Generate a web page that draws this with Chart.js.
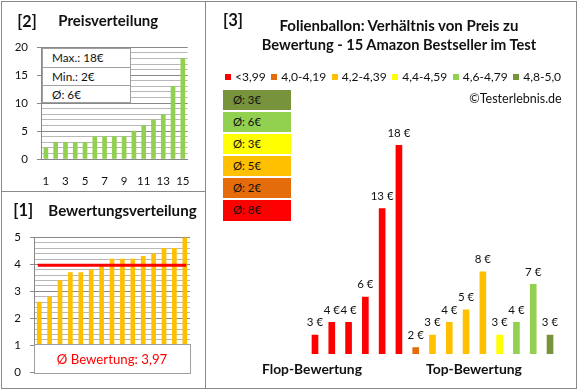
<!DOCTYPE html>
<html><head><meta charset="utf-8">
<script src="https://cdn.jsdelivr.net/npm/chart.js@4"></script>
<style>
html,body{margin:0;padding:0;background:#fff;}
body{width:579px;height:390px;position:relative;overflow:hidden;font-family:Lato,"Open Sans",sans-serif;color:#111;}
canvas{position:absolute;}
.ln{position:absolute;background:#898989;}
.t{position:absolute;white-space:nowrap;z-index:3;}
.ov{position:absolute;z-index:2;}
</style></head><body>

<script>
// ---------- data ----------
const priceRank = ['1','2','3','4','5','6','7','8','9','10','11','12','13','14','15'];
const pricesSorted = [2,3,3,3,3,4,4,4,4,5,6,7,8,13,18];
const priceMax = 18, priceMin = 2, priceAvg = 6;
const priceTicks = [0,5,10,15,20];

const ratingsSorted = [2.6,2.8,3.4,3.7,3.7,3.8,4.0,4.2,4.2,4.2,4.3,4.4,4.6,4.6,5.0];
const avgRating = 3.97;
const ratingTicks = [0,1,2,3,4,5];

const productLabels = priceRank;
const pricesByRating = [3,4,4,6,13,18,2,3,4,5,8,3,4,7,3];
const bandLabels = ['<3,99','4,0-4,19','4,2-4,39','4,4-4,59','4,6-4,79','4,8-5,0'];
const bandLower = [0,4.0,4.2,4.4,4.6,4.8];
const bandAvgPrice = [8,2,5,3,6,3];

// ---------- styles ----------
const bandColors = ['#FF0000','#E46C0A','#FFC000','#FFFF00','#92D050','#77933C'];
const FONT = 'Lato';
const TICK_FONT = 11.5;
const MAJOR = '#888888', MINOR = '#B8B8B8';
</script>

<div class="ln" style="left:1px;top:1px;width:576px;height:1px"></div>
<div class="ln" style="left:1px;top:388px;width:576px;height:1px"></div>
<div class="ln" style="left:1px;top:1px;width:1px;height:388px"></div>
<div class="ln" style="left:576px;top:1px;width:1px;height:388px"></div>
<div class="ln" style="left:205px;top:1px;width:1px;height:388px"></div>
<div class="ln" style="left:1px;top:191px;width:205px;height:1px"></div>

<canvas id="c2" width="205" height="190" style="left:0;top:0"></canvas>
<canvas id="c1" width="205" height="197" style="left:0;top:191px"></canvas>
<canvas id="c3" width="270" height="270" style="left:300px;top:100px"></canvas>

<div class="ov" id="pbox" style="left:42px;top:48px;width:89px;height:55px;background:#fff;border:1px solid #A0A0A0;box-sizing:border-box"></div>
<div class="ov" id="rbox" style="left:34px;top:344px;width:157px;height:30px;background:#fff;border:1px solid #A0A0A0;box-sizing:border-box"></div>
<div id="cbox"></div>

<script>
// ---------- text helpers (fit text to the reference's measured widths) ----------
function fitSize(txt, bold, w) {
  const c = document.createElement('canvas').getContext('2d');
  c.font = (bold ? 'bold ' : '') + '100px ' + FONT;
  return 100 * w / c.measureText(txt).width;
}
function addText(txt, o) {
  const d = document.createElement('div');
  d.className = 't';
  d.textContent = txt;
  const fs = o.size || fitSize(txt, o.bold, o.w);
  d.style.fontSize = fs + 'px';
  d.style.fontWeight = o.bold ? 'bold' : 'normal';
  d.style.lineHeight = '24px';
  if (o.color) d.style.color = o.color;
  document.body.appendChild(d);
  const w = d.getBoundingClientRect().width;
  let left = o.left;
  if (o.cx !== undefined) left = o.cx - w / 2;
  if (o.right !== undefined) left = o.right - w;
  d.style.left = left + 'px';
  d.style.top = (o.cy - 12) + 'px';
  return d;
}

// titles
addText('[2]', { left: 17.3, cy: 21, w: 19.4, bold: true });
addText('Preisverteilung', { left: 58.3, cy: 20, w: 100, bold: true });
addText('[1]', { left: 13.3, cy: 210, w: 20, bold: true });
addText('Bewertungsverteilung', { left: 48.3, cy: 209.5, w: 148.4, bold: true });
addText('[3]', { left: 223, cy: 19.5, w: 20, bold: true });
addText('Folienballon: Verhältnis von Preis zu', { cx: 399, cy: 25, w: 240, bold: true });
addText('Bewertung - 15 Amazon Bestseller im Test', { cx: 399, cy: 45, w: 276, bold: true });
addText('©Testerlebnis.de', { right: 561.7, cy: 98.5, w: 92.4 });
addText('Flop-Bewertung', { left: 262, cy: 369.2, w: 100, bold: true });
addText('Top-Bewertung', { left: 426, cy: 369.2, w: 96, bold: true });

// price summary box
const boxFs = fitSize('Max.: ' + priceMax + '€', false, 51.7);
const pbox = document.getElementById('pbox');
[['Max.: ', priceMax], ['Min.: ', priceMin], ['Ø: ', priceAvg]].forEach((r, i) => {
  const d = document.createElement('div');
  d.textContent = r[0] + r[1] + '€';
  const h = i === 1 ? 17 : 18;
  d.style.cssText = 'height:' + h + 'px;line-height:' + h + 'px;padding-left:9px;font-size:' + boxFs + 'px;' + (i < 2 ? 'border-bottom:1px solid #A0A0A0;' : '');
  pbox.appendChild(d);
});

// average rating box
const avgTxt = 'Ø Bewertung: ' + avgRating.toFixed(2).replace('.', ',');
addText(avgTxt, { cx: 112, cy: 358.5, w: 110.7, color: '#FF0000' });

// legend for panel 3
const legFs = fitSize(bandLabels.join(''), false, 248.4);
const leg = document.createElement('div');
leg.className = 't';
leg.style.cssText = 'left:225px;top:69px;height:16px;display:flex;align-items:center;gap:5.6px;line-height:16px;font-size:' + legFs + 'px';
bandLabels.forEach((l, i) => {
  const it = document.createElement('div');
  it.style.cssText = 'display:flex;align-items:center;';
  const sq = document.createElement('span');
  sq.style.cssText = 'display:inline-block;width:6px;height:6px;margin-right:4px;background:' + bandColors[i];
  const tx = document.createElement('span');
  tx.textContent = l;
  it.appendChild(sq); it.appendChild(tx);
  leg.appendChild(it);
});
document.body.appendChild(leg);

// band average boxes
const cFs = fitSize('Ø: 3€', false, 28);
const cbox = document.getElementById('cbox');
for (let k = 0; k < bandLabels.length; k++) {
  const i = bandLabels.length - 1 - k;
  const d = document.createElement('div');
  d.className = 'ov';
  d.style.cssText = 'left:223px;width:68px;height:20.5px;line-height:20.5px;padding-left:10px;box-sizing:border-box;color:#111;font-size:' + cFs + 'px;top:' + (89.5 + k * 22.1) + 'px;background:' + bandColors[i];
  d.textContent = 'Ø: ' + bandAvgPrice[i] + '€';
  cbox.appendChild(d);
}

// ---------- charts ----------
Chart.defaults.font.family = FONT;
Chart.defaults.font.size = TICK_FONT;
Chart.defaults.color = '#111';
const isInt = v => Math.abs(v - Math.round(v)) < 1e-6;

// Panel 2: price distribution
new Chart(document.getElementById('c2'), {
  type: 'bar',
  data: { labels: priceRank, datasets: [{ data: pricesSorted, backgroundColor: '#92D050', barThickness: 4 }] },
  options: {
    responsive: false, animation: false, events: [], devicePixelRatio: 1,
    layout: { padding: { left: 0, right: 15.3, top: 47.3, bottom: 0 } },
    plugins: { legend: { display: false }, tooltip: { enabled: false } },
    scales: {
      x: {
        grid: { display: false, drawTicks: false },
        border: { display: true, color: MAJOR },
        ticks: { autoSkip: false, maxRotation: 0, padding: 15, callback: (v, i) => (i % 2 === 0 ? priceRank[i] : '') },
        afterFit: s => { s.height = 31; }
      },
      y: {
        min: 0, max: 20,
        ticks: { stepSize: 1, autoSkip: false, padding: 9, callback: v => (priceTicks.includes(v) ? String(v) : '') },
        grid: { color: c => (priceTicks.includes(c.tick.value) ? MAJOR : MINOR), tickLength: 4, tickColor: c => (priceTicks.includes(c.tick.value) ? MAJOR : 'rgba(0,0,0,0)') },
        border: { display: true, color: MAJOR },
        afterFit: s => { s.width = 41; }
      }
    }
  }
});

// Panel 1: rating distribution
new Chart(document.getElementById('c1'), {
  type: 'bar',
  data: {
    labels: priceRank,
    datasets: [
      { type: 'line', data: priceRank.map(() => avgRating), borderColor: '#FF0000', borderWidth: 3, pointRadius: 0, borderCapStyle: 'square', order: 0 },
      { data: ratingsSorted, backgroundColor: '#FFC000', barThickness: 4, order: 1 }
    ]
  },
  options: {
    responsive: false, animation: false, events: [], devicePixelRatio: 1,
    layout: { padding: { left: 0, right: 15, top: 46.5, bottom: 15 } },
    plugins: { legend: { display: false }, tooltip: { enabled: false } },
    scales: {
      x: { display: false },
      y: {
        min: 0, max: 5,
        ticks: { stepSize: 0.2, autoSkip: false, padding: 9, callback: v => (isInt(v) && ratingTicks.includes(Math.round(v)) ? String(Math.round(v)) : '') },
        grid: { color: c => (isInt(c.tick.value) ? MAJOR : MINOR), tickLength: 4, tickColor: c => (isInt(c.tick.value) ? MAJOR : 'rgba(0,0,0,0)') },
        border: { display: true, color: MAJOR },
        afterFit: s => { s.width = 34; }
      }
    }
  }
});

// Panel 3: price vs. rating
const bandOf = r => bandLower.filter(b => r >= b - 1e-9).length - 1;
const valueLabels = {
  id: 'valueLabels',
  afterDatasetsDraw(chart) {
    const ctx = chart.ctx;
    const meta = chart.getDatasetMeta(0);
    ctx.save();
    ctx.font = TICK_FONT + 'px ' + FONT;
    ctx.fillStyle = '#111';
    ctx.textAlign = 'center';
    ctx.textBaseline = 'middle';
    meta.data.forEach((bar, i) => {
      ctx.fillText(pricesByRating[i] + ' €', bar.x, bar.y - 12.5);
    });
    ctx.restore();
  }
};
new Chart(document.getElementById('c3'), {
  type: 'bar',
  data: {
    labels: productLabels,
    datasets: [{ data: pricesByRating, backgroundColor: ratingsSorted.map(r => bandColors[bandOf(r)]), barThickness: 6 }]
  },
  options: {
    responsive: false, animation: false, events: [], devicePixelRatio: 1,
    layout: { padding: { left: 6.6, right: 11.6, top: 20, bottom: 16 } },
    plugins: { legend: { display: false }, tooltip: { enabled: false } },
    scales: {
      x: { display: false },
      y: { display: false, min: 1.5, max: 20 }
    }
  },
  plugins: [valueLabels]
});
</script>
</body></html>
